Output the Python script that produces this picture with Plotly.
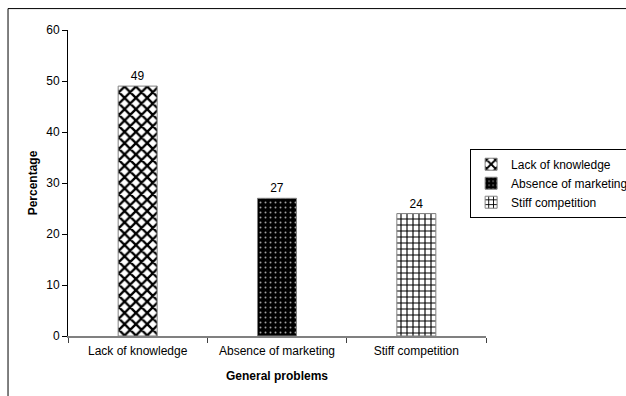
import plotly.graph_objects as go

# Survey results: share of respondents citing each general problem
categories = ["Lack of knowledge", "Absence of marketing", "Stiff competition"]
percentages = [49, 27, 24]

y_ticks = [0, 10, 20, 30, 40, 50, 60]

# Fill style per problem (pattern shape, foreground, background, size, solidity)
fills = [
    dict(shape="x", fgcolor="black", bgcolor="white", size=8, solidity=0.5),
    dict(shape=".", fgcolor="#a0a0a0", bgcolor="black", size=5, solidity=0.12),
    dict(shape="+", fgcolor="black", bgcolor="white", size=6, solidity=0.34),
]

FONT = "Arial, Liberation Sans, sans-serif"

fig = go.Figure()
for cat, val, pat in zip(categories, percentages, fills):
    fig.add_trace(go.Bar(
        x=[cat], y=[val], name=cat,
        width=0.28,
        marker=dict(color="white", pattern=dict(fillmode="replace", **pat),
                    line=dict(color="#808080", width=1)),
        text=[val], textposition="outside", cliponaxis=False,
        textfont=dict(family=FONT, size=12, color="black"),
    ))

fig.update_layout(
    width=626, height=396,
    margin=dict(l=68, r=140, t=30, b=60, autoexpand=False),
    paper_bgcolor="white", plot_bgcolor="white",
    font=dict(family=FONT, size=12, color="black"),
    showlegend=True,
    legend=dict(x=0.962, y=0.612, xanchor="left", yanchor="top",
                bordercolor="black", borderwidth=1, bgcolor="white",
                font=dict(family=FONT, size=12, color="black"),
                itemwidth=30, tracegroupgap=0),
    xaxis=dict(
        title=dict(text="<b>General problems</b>", standoff=14,
                   font=dict(family=FONT, size=12)),
        showline=True, linecolor="#808080", linewidth=2,
        ticks="outside", tickson="boundaries", ticklen=5, tickcolor="#404040",
        ticklabelstandoff=3,
        showgrid=False, tickfont=dict(size=12),
    ),
    yaxis=dict(
        title=dict(text="<b>Percentage</b>", standoff=6,
                   font=dict(family=FONT, size=12)),
        range=[0, 60], tickvals=y_ticks,
        showline=True, linecolor="black", linewidth=1,
        ticks="outside", ticklen=5, tickcolor="black",
        showgrid=False, zeroline=False, tickfont=dict(size=12),
    ),
    shapes=[dict(type="rect", xref="paper", yref="paper",
                 x0=-0.1435, y0=-1, x1=2, y1=1.07,
                 line=dict(color="black", width=1), layer="below")],
)

fig.write_html("out.html")
